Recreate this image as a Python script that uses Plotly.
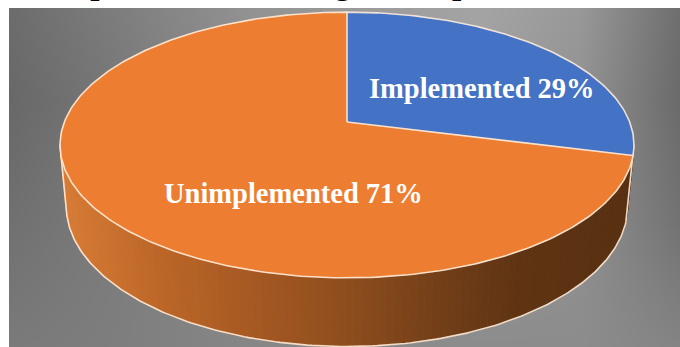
import numpy as np
import plotly.graph_objects as go

# ---- data ----
LABELS = ["Implemented", "Unimplemented"]
VALUES = [29, 71]
SLICE_COLORS = ["#4472C4", "#ED7D31"]
TITLE = "Implementation Progress Report"

# gray levels of the backdrop panel (rows top -> bottom, columns left -> right)
BACK_X = [9, 120, 250, 380, 480, 580, 680]
BACK_Y = [8, 100, 220, 347]
BACK_GRAY = [
    [108, 126, 146, 156, 164, 152, 110],
    [104, 120, 142, 152, 158, 146, 106],
    [112, 124, 140, 148, 150, 144, 114],
    [122, 126, 134, 138, 140, 140, 132],
]

# shading stops for the side wall (screen x -> rgb)
WALL_X = [62, 150, 250, 350, 450, 520, 634]
WALL_RGB = [(216, 124, 54), (190, 104, 41), (166, 89, 34), (141, 77, 29),
            (112, 61, 23), (95, 52, 19), (88, 48, 17)]

# ---- 3-D pie projection ----
W, H = 680, 347
CX, CY = 347.0, 122.0       # projected pie centre (px)
F, D = 1454.0, 5.144        # focal length, camera distance (radius = 1)
SA, CA = 0.456, 0.890       # sin / cos of the tilt
DEPTH = 0.245               # thickness of the pie


def proj(theta_deg, z=0.0):
    t = np.radians(np.asarray(theta_deg, dtype=float))
    X, Y = np.sin(t), np.cos(t)
    w = D + Y * CA - z * SA
    up = (Y * SA + z * CA) * F / w
    return CX + F * X / w, CY - up


fig = go.Figure()

# backdrop panel
fig.add_trace(go.Heatmap(
    x=BACK_X, y=BACK_Y, z=BACK_GRAY, zsmooth="best",
    zmin=0, zmax=255, colorscale=[[0, "rgb(0,0,0)"], [1, "rgb(255,255,255)"]],
    showscale=False, hoverinfo="skip", xaxis="x", yaxis="y"))

# slice angles, clockwise from the far point
total = float(sum(VALUES))
bounds = np.concatenate([[0.0], np.cumsum(VALUES) / total * 360.0])

# side wall: visible front arc between the two silhouette angles
a_lo, a_hi = 99.8, 260.2
edges = np.linspace(a_lo, a_hi, 121)
for a0, a1 in zip(edges[:-1], edges[1:]):
    xs_t, ys_t = proj([a0, a1], 0.0)
    xs_b, ys_b = proj([a1, a0], -DEPTH)
    xm = float(np.mean(xs_t))
    rgb = [int(round(np.interp(xm, WALL_X, [c[i] for c in WALL_RGB]))) for i in range(3)]
    col = "rgb(%d,%d,%d)" % tuple(rgb)
    fig.add_trace(go.Scatter(
        x=list(xs_t) + list(xs_b) + [xs_t[0]], y=list(ys_t) + list(ys_b) + [ys_t[0]],
        mode="lines", fill="toself", fillcolor=col, line=dict(color=col, width=0.8),
        hoverinfo="skip", showlegend=False, xaxis="x2", yaxis="y2"))

EDGE = "rgba(255,236,218,0.9)"

# wall outline: bottom rim and the two side edges
arc = np.linspace(a_lo, a_hi, 200)
bx, by = proj(arc, -DEPTH)
tx0, ty0 = proj([a_lo], 0.0)
tx1, ty1 = proj([a_hi], 0.0)
fig.add_trace(go.Scatter(
    x=[tx0[0]] + list(bx) + [tx1[0]], y=[ty0[0]] + list(by) + [ty1[0]],
    mode="lines", line=dict(color=EDGE, width=1.6),
    hoverinfo="skip", showlegend=False, xaxis="x2", yaxis="y2"))

# top face slices
for lab, v, c, s, e in zip(LABELS, VALUES, SLICE_COLORS, bounds[:-1], bounds[1:]):
    ang = np.linspace(s, e, max(int((e - s) * 2), 8))
    px, py = proj(ang, 0.0)
    fig.add_trace(go.Scatter(
        x=[CX] + list(px) + [CX], y=[CY] + list(py) + [CY],
        mode="lines", fill="toself", fillcolor=c, line=dict(color=c, width=0.5),
        name=lab, hoverinfo="skip", showlegend=False, xaxis="x2", yaxis="y2"))

# top rim and slice dividers
ring = np.linspace(0, 360, 400)
rx, ry = proj(ring, 0.0)
fig.add_trace(go.Scatter(
    x=rx, y=ry, mode="lines", line=dict(color=EDGE, width=1.6),
    hoverinfo="skip", showlegend=False, xaxis="x2", yaxis="y2"))
for b in bounds[:-1]:
    ex, ey = proj([b], 0.0)
    fig.add_trace(go.Scatter(
        x=[CX, ex[0]], y=[CY, ey[0]], mode="lines", line=dict(color=EDGE, width=1.6),
        hoverinfo="skip", showlegend=False, xaxis="x2", yaxis="y2"))

# slice labels
LABEL_POS = [(482, 88), (293, 193)]
annotations = []
for lab, v, (lx, ly) in zip(LABELS, VALUES, LABEL_POS):
    pct = round(v / total * 100)
    annotations.append(dict(
        x=lx, y=ly, xref="x2", yref="y2", showarrow=False,
        text="<b>%s %d%%</b>" % (lab, pct),
        font=dict(family="Liberation Serif", size=28.5, color="white")))

# heading above the panel (runs off the top of the page)
annotations.append(dict(
    x=48, y=(H - 3) / H, xref="x2", yref="paper", xanchor="left", yanchor="bottom",
    showarrow=False, text="<b>%s</b>" % TITLE,
    font=dict(family="Liberation Serif", size=33, color="black")))

fig.update_layout(
    width=W, height=H, autosize=False,
    margin=dict(l=0, r=0, t=0, b=0, pad=0),
    paper_bgcolor="white", plot_bgcolor="rgba(0,0,0,0)",
    showlegend=False,
    xaxis=dict(domain=[9 / W, 1], range=[9, 680], visible=False, fixedrange=True),
    yaxis=dict(domain=[0, (H - 8) / H], range=[347, 8], visible=False, fixedrange=True),
    xaxis2=dict(domain=[0, 1], range=[0, W], visible=False, fixedrange=True, anchor="y2"),
    yaxis2=dict(domain=[0, 1], range=[H, 0], visible=False, fixedrange=True, anchor="x2"),
    annotations=annotations,
)

fig.write_html("out.html", config={"displayModeBar": False})
